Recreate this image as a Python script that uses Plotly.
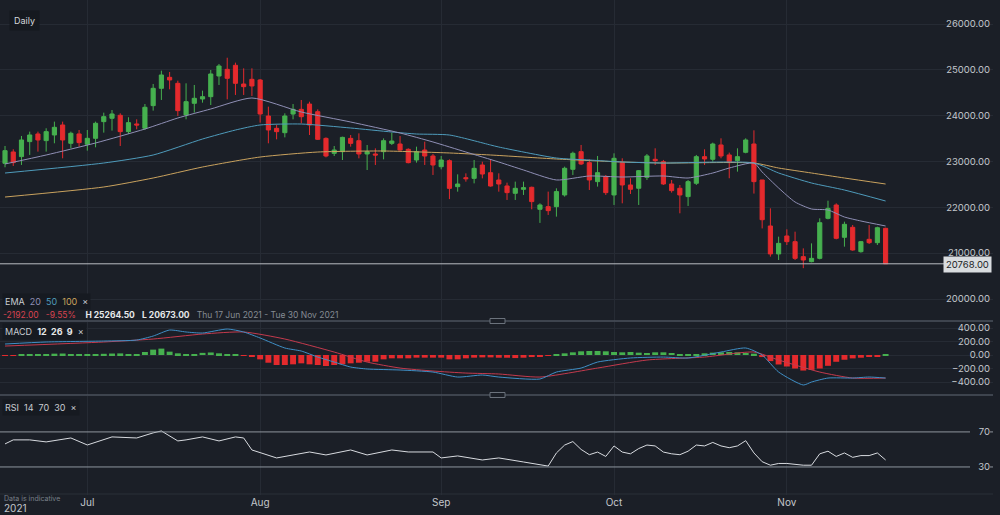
import plotly.graph_objects as go

# ---------------- data ----------------
opens = [22960,23208,23107,23434,23601,23456,23579,23797,23397,23601,
         23376,23506,23870,23943,24008,23652,23819,23725,24219,24597,
         24837,24706,24015,24270,24364,24415,24866,25011,25099,24691,
         24793,24779,23993,23724,23629,24036,24138,24254,24087,23505,
         23178,23215,23505,23454,23164,23164,23215,23396,23382,23266,
         23033,23251,23120,22887,23018,22451,22647,22632,22924,22756,
         22596,22466,22306,22393,22437,21957,22015,22015,22270,22830,
         23215,22975,22561,22670,22270,22975,22488,22416,22655,23048,
         22997,22510,22416,22234,22525,23106,23048,23361,23143,23019,
         23201,23382,22597,21593,20983,21375,21251,20924,20815,20887,
         21760,22051,21346,21564,21033,21302,21229,21542]
highs = [23339,23267,23557,23652,23652,23725,23870,23870,23652,23688,
         23688,23870,24066,24124,24052,23965,23921,24255,24692,24982,
         24953,24764,24706,24670,24546,24997,25128,25264.5,25157,25033,
         25033,24800,24197,23796,24051,24254,24342,24305,24138,23527,
         23338,23542,23578,23614,23360,23287,23505,23629,23556,23287,
         23324,23433,23164,23120,23047,22720,22742,23033,22996,23033,
         22742,22539,22561,22561,22452,22088,22343,22415,22888,23215,
         23361,23048,23121,22706,23179,23070,22634,22815,23164,23288,
         23034,22597,22488,22597,23143,23266,23412,23506,23194,23288,
         23506,23680,22597,21978,21360,21520,21469,21105,21214,21760,
         22145,22087,21687,21614,21266,21614,21578,21556]
lows = [22874,22903,22925,23143,23216,23216,23397,23070,23288,23325,
        23237,23310,23630,23674,23339,23601,23703,23688,24110,24343,
        24575,23994,23921,24066,24284,24233,24670,24357,24452,24452,
        24430,23848,23397,23484,23527,23920,23833,23578,23469,23091,
        23120,23033,23324,23069,22814,22924,23047,23360,23236,22960,
        22975,22924,22706,22829,22180,22342,22560,22523,22632,22451,
        22342,22161,22161,22270,21957,21660,21834,21797,22234,22706,
        22924,22379,22452,22270,22052,22088,22292,22052,22597,22924,
        22488,22321,21870,22030,22488,22924,22997,23070,22634,22779,
        23179,22300,21540,20924,20851,21178,20851,20673,20800,20865,
        21738,21302,21142,21054,21011,21200,21178,20768]
closes = [23237,22976,23470,23579,23470,23652,23746,23470,23616,23412,
          23506,23834,23979,24037,23652,23848,23797,24183,24597,24888,
          24779,24110,24306,24379,24415,24910,25084,24815,24706,24633,
          24648,24037,23688,23651,23993,24138,23978,23796,23484,23120,
          23251,23527,23396,23164,23215,23142,23454,23447,23251,22975,
          23215,23120,22924,23033,22414,22509,22625,22851,22727,22465,
          22509,22321,22415,22430,22125,22052,21928,22343,22852,23179,
          22946,22597,22757,22321,23070,22488,22394,22801,23121,23019,
          22510,22365,22270,22561,23106,23055,23382,23121,22975,23106,
          23470,22561,21730,20983,21214,21251,20887,20851,20887,21665,
          21978,21324,21629,21069,21251,21229,21556,20768]
candle_idx = list(range(len(closes)))

ema20_idx = [0,5,11,17,21,25,30,36,42,48,52,56,60,63,67,71,75,80,83,86,88,91,92,94,96,98,100,102,104,107]
ema20_val = [22946,23142,23404,23709,23949,24146,24386,24080,23862,23622,23426,23207,22989,22815,22597,22684,22662,22684,22640,22749,22858,22967,22771,22422,22116,21964,21942,21789,21702,21593]
ema50_idx = [0,12,18,24,28,31,36,42,47,50,54,59,60,67,71,75,80,91,94,98,102,107]
ema50_val = [22749,22967,23142,23491,23687,23797,23818,23731,23644,23600,23578,23360,23316,23076,23033,22989,22967,22967,22749,22531,22378,22138]
ema100_idx = [0,12,18,24,31,38,46,54,59,67,75,80,91,94,98,102,107]
ema100_val = [22225,22444,22640,22880,23098,23207,23229,23186,23142,23055,22989,22967,22967,22858,22749,22640,22509]

macd_idx = [0,5,12,16,18,20,22,24,27,29,31,34,36,38,40,42,44,48,52,55,58,60,65,67,70,72,76,80,83,87,90,92,94,97,98,100,103,105,107]
macd_val = [163,193,207,222,281,370,341,326,385,341,252,104,59,-30,-104,-178,-207,-222,-252,-326,-296,-326,-355,-252,-193,-104,-44,-30,-44,44,104,0,-252,-444,-400,-341,-341,-326,-341]
signal_idx = [0,12,18,24,29,34,40,44,48,52,56,60,65,72,78,85,91,94,99,103,107]
signal_val = [133,193,237,311,341,237,44,-104,-193,-237,-267,-281,-326,-193,-74,-30,44,-74,-252,-341,-341]
hist_val = [-8,-12,2,12,12,14,20,22,14,10,4,6,18,22,24,14,10,45,80,95,
            50,25,8,10,32,38,25,10,5,-5,-20,-64,-114,-148,-148,-138,-123,-138,-148,-163,
            -148,-138,-123,-114,-99,-99,-64,-49,-49,-49,-39,-39,-39,-39,-64,-64,-49,-39,-35,-35,
            -40,-40,-45,-40,-30,-20,-5,5,25,40,55,60,60,55,45,40,45,35,30,40,
            40,30,10,5,5,25,35,40,45,40,30,20,-30,-90,-140,-170,-200,-230,-220,-200,
            -160,-100,-70,-50,-40,-25,-15,10]

rsi_idx = [0,1,3,5,8,10,13,16,18,19,21,22,24,26,28,29,30,32,33,35,37,39,42,44,47,49,52,53,55,58,60,63,65,66,
           67,68,69,70,71,72,73,74,75,76,77,78,79,80,81,82,83,84,85,86,87,88,89,90,91,92,93,94,95,96,97,98,
           99,100,101,102,103,104,105,106,107]
rsi_val = [56.3,60.9,60.9,58.6,63.1,55.1,64.3,63.1,68.9,71.1,59.7,60.9,64.3,59.7,64.3,63.1,49.4,43.7,40.3,43.7,47.1,43.7,49.4,43.7,49.4,47.1,47.1,40.3,42.6,38,40.3,35.7,32,31,
           46,55,59,50,44,47,42,54,47,45,51,55,54,47,45,44,48,55,54,58,54,52,54,60,46,36,32,34,34,33,32,32,
           45,48,42,46,41,43,43,46,38]

month_ticks = [10, 31, 53, 74, 95]
month_labels = ["Jul", "Aug", "Sep", "Oct", "Nov"]
price_ticks = [20000, 21000, 22000, 23000, 24000, 25000, 26000]
macd_ticks = [-400, -200, 0, 200, 400]
rsi_ticks = [30, 70]
last_price = 20768.00

# ---------------- style ----------------
BG = "#1b1f27"
GRID = "#262b34"
GREEN = "#46b04f"
RED = "#e42a2d"
C20, C50, C100 = "#8f8fb5", "#4e9bbb", "#c9a25e"
TICK = "#c3c7cc"
FONT = "Inter"

H_PLOT = 495  # plot area height in px (515 - bottom margin 20)
W_PLOT = 993

def py(px):
    return (H_PLOT - px) / H_PLOT

def pxx(px):
    return px / W_PLOT

fig = go.Figure()

fig.add_trace(go.Candlestick(
    x=candle_idx, open=opens, high=highs, low=lows, close=closes,
    increasing=dict(line=dict(color=GREEN, width=1), fillcolor=GREEN),
    decreasing=dict(line=dict(color=RED, width=1), fillcolor=RED),
    whiskerwidth=0, xaxis="x", yaxis="y", showlegend=False, hoverinfo="skip"))

for ix, iv, col in [(ema100_idx, ema100_val, C100), (ema50_idx, ema50_val, C50), (ema20_idx, ema20_val, C20)]:
    fig.add_trace(go.Scatter(x=ix, y=iv, mode="lines", line=dict(color=col, width=1, shape="spline", smoothing=0.6),
                             xaxis="x", yaxis="y", showlegend=False, hoverinfo="skip"))

fig.add_trace(go.Bar(x=candle_idx, y=hist_val, width=0.72,
                     marker=dict(color=[GREEN if v >= 0 else RED for v in hist_val], line=dict(width=0)),
                     xaxis="x2", yaxis="y2", showlegend=False, hoverinfo="skip"))
fig.add_trace(go.Scatter(x=signal_idx, y=signal_val, mode="lines", line=dict(color="#c43a4d", width=1, shape="spline", smoothing=0.6),
                         xaxis="x2", yaxis="y2", showlegend=False, hoverinfo="skip"))
fig.add_trace(go.Scatter(x=macd_idx, y=macd_val, mode="lines", line=dict(color="#3f8fc6", width=1, shape="spline", smoothing=0.6),
                         xaxis="x2", yaxis="y2", showlegend=False, hoverinfo="skip"))

fig.add_trace(go.Scatter(x=rsi_idx, y=rsi_val, mode="lines", line=dict(color="#d8dbe0", width=1),
                         xaxis="x3", yaxis="y3", showlegend=False, hoverinfo="skip"))

XR = [-0.61, 120.05]
xcommon = dict(range=XR, showgrid=True, gridcolor=GRID, gridwidth=1, zeroline=False,
               tickvals=month_ticks, showline=False, fixedrange=True)
ycommon = dict(side="right", ticklabelposition="inside", showgrid=True, gridcolor=GRID, zeroline=False,
               tickfont=dict(color=TICK, size=9.5, family=FONT), tickformat=".2f", ticks="", showline=False,
               fixedrange=True)

fig.update_layout(
    width=1000, height=515,
    margin=dict(l=0, r=7, t=0, b=20),
    paper_bgcolor=BG, plot_bgcolor=BG,
    font=dict(family=FONT, color=TICK),
    boxgap=0.28,
    bargap=0.28,
    xaxis=dict(**xcommon, anchor="y", domain=[0, 1], showticklabels=False, rangeslider=dict(visible=False)),
    xaxis2=dict(**xcommon, anchor="y2", domain=[0, 1], showticklabels=False, matches="x"),
    xaxis3=dict(**xcommon, anchor="y3", domain=[0, 1], showticklabels=True, matches="x",
                ticktext=month_labels, tickfont=dict(color=TICK, size=10, family=FONT)),
    yaxis=dict(**ycommon, domain=[py(321), 1], range=[19520, 26524], tickvals=price_ticks),
    yaxis2=dict(**ycommon, domain=[py(395), py(322)], range=[-592, 489], tickvals=macd_ticks),
    yaxis3=dict(side="right", ticklabelposition="inside", showgrid=False, zeroline=False,
                domain=[0, py(396)], range=[-2, 111], tickvals=rsi_ticks, fixedrange=True,
                tickfont=dict(color=TICK, size=9.5, family=FONT), ticks=""),
)

shapes = []
# panel separators
for ypx in (321, 395):
    shapes.append(dict(type="line", xref="paper", yref="paper", x0=0, x1=1, y0=py(ypx), y1=py(ypx),
                       line=dict(color="#4b525c", width=1.5)))
# bottom line
shapes.append(dict(type="line", xref="paper", yref="paper", x0=0, x1=1, y0=py(494), y1=py(494),
                   line=dict(color="#2a3039", width=1)))
# RSI 70/30 lines
for lv in rsi_ticks:
    shapes.append(dict(type="line", xref="paper", yref="y3", x0=0, x1=pxx(970), y0=lv, y1=lv,
                       line=dict(color="#8e959e", width=1)))
    shapes.append(dict(type="line", xref="paper", yref="y3", x0=pxx(990), x1=1, y0=lv, y1=lv,
                       line=dict(color="#8e959e", width=1)))
# last price line
shapes.append(dict(type="line", xref="paper", yref="y", x0=0, x1=pxx(955), y0=last_price, y1=last_price,
                   line=dict(color="#b9bdc2", width=1)))
# panel handles
for ypx in (321, 395):
    shapes.append(dict(type="rect", xref="paper", yref="paper", x0=pxx(490), x1=pxx(505),
                       y0=py(ypx + 2.5), y1=py(ypx - 2.5), fillcolor=BG, line=dict(color="#6b727c", width=1)))
fig.update_layout(shapes=shapes)

ann = []
def note(xpx, ypx, text, size=9, color="#d4d7db", bg=None, xanchor="left", pad=2):
    d = dict(xref="paper", yref="paper", x=pxx(xpx), y=py(ypx), text=text, showarrow=False,
             xanchor=xanchor, yanchor="middle", font=dict(family=FONT, size=size, color=color), borderpad=pad)
    if bg:
        d["bgcolor"] = bg
    ann.append(d)

note(9, 20, "Daily", size=9, bg="#15191f", pad=4)
note(2, 302, f"EMA&nbsp;&nbsp;<span style='color:{C20}'>20</span>&nbsp;&nbsp;<span style='color:{C50}'>50</span>&nbsp;&nbsp;<span style='color:{C100}'>100</span>&nbsp;&nbsp;×",
     size=9, color="#c8ccd1", bg="#161a21")
note(0, 315, "<span style='color:#d8434f'>-2192.00&nbsp;&nbsp;&nbsp;-9.55%</span>&nbsp;&nbsp;&nbsp;&nbsp;<b>H 25264.50</b>&nbsp;&nbsp;&nbsp;<b>L 20673.00</b>&nbsp;&nbsp;&nbsp;<span style='color:#858b93'>Thu 17 Jun 2021 - Tue 30 Nov 2021</span>",
     size=8.5, color="#e6e8ea")
note(2, 331, "MACD&nbsp;&nbsp;<b style='color:#e6e8ea'>12&nbsp;&nbsp;26&nbsp;&nbsp;9</b>&nbsp;&nbsp;×", size=9, color="#c8ccd1", bg="#161a21")
note(2, 407, "RSI&nbsp;&nbsp;14&nbsp;&nbsp;70&nbsp;&nbsp;30&nbsp;&nbsp;×", size=9, color="#c8ccd1", bg="#161a21")
note(1, 498, "Data is indicative", size=7, color="#7a8089")
note(1, 508, "2021", size=10, color=TICK)
note(992, 264, "20768.00", size=9.5, color="#1b1f27", bg="#d9dcdf", xanchor="right", pad=2)
fig.update_layout(annotations=ann)

fig.write_html("out.html", config={"displayModeBar": False},
               post_script="document.body.style.margin='0';document.body.style.background='" + BG + "';")
